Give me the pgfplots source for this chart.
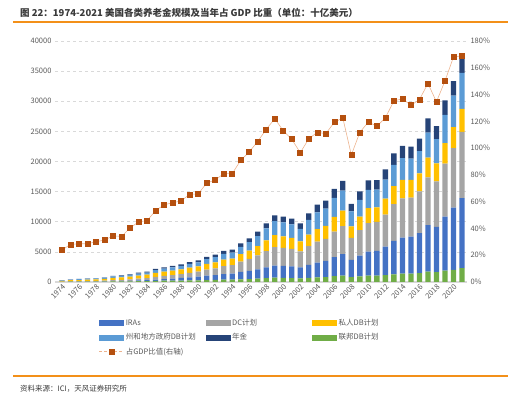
\documentclass[border=0pt]{standalone}
\usepackage{fontspec}
\setmainfont{Carlito}
\newfontfamily\cjk{Noto Sans CJK SC}
\usepackage{pgfplots}
\usepackage{pgfplotstable}
\pgfplotsset{compat=1.18}
\definecolor{cFed}{HTML}{70AD47}
\definecolor{cIRA}{HTML}{4472C4}
\definecolor{cDC}{HTML}{A5A5A5}
\definecolor{cPriv}{HTML}{FFC000}
\definecolor{cState}{HTML}{5B9BD5}
\definecolor{cAnn}{HTML}{264478}
\definecolor{cMark}{HTML}{B5500F}
\definecolor{cLine}{HTML}{EDB38E}
\definecolor{tgray}{HTML}{595959}
\definecolor{titlegray}{HTML}{3A3A3A}
\definecolor{orangeline}{HTML}{F39019}
\definecolor{gridgray}{HTML}{D9D9D9}

\pgfplotstableread{
year fed ira dc priv state ann
1974 30 0 42 120 84 24
1975 45 1 66 179 123 36
1976 50 4 77 197 133 40
1977 61 6 98 238 159 49
1978 66 9 110 255 167 53
1979 78 13 135 299 193 62
1980 100 20 180 380 240 80
1981 109 40 204 408 258 91
1982 123 67 241 456 287 108
1983 145 105 296 530 333 132
1984 157 144 335 568 356 150
1985 194 216 432 691 432 194
1986 215 278 503 742 483 220
1987 229 340 564 766 521 239
1988 247 417 641 800 570 265
1989 271 515 739 845 634 297
1990 288 612 828 864 684 324
1991 324 722 988 955 789 374
1992 344 806 1114 997 861 408
1993 381 937 1308 1082 979 464
1994 386 997 1404 1072 1018 482
1995 449 1220 1733 1220 1220 578
1996 497 1359 1976 1359 1414 645
1997 559 1545 2296 1545 1670 735
1998 638 1778 2703 1778 1997 847
1999 708 1993 3100 1993 2325 952
2000 683 1973 3014 1919 2287 965
2001 652 1934 2901 1829 2228 967
2002 604 1812 2669 1656 2084 916
2003 695 2143 3101 1904 2451 1106
2004 771 2442 3470 2107 2776 1285
2005 824 2666 3679 2160 2835 1330
2006 957 3165 4246 2424 3150 1498
2007 1057 3564 4654 2574 3320 1602
2008 829 2849 3626 1943 2486 1217
2009 949 3434 4232 2229 2801 1401
2010 1047 3984 4760 2464 3055 1570
2011 1047 4119 4794 2431 2954 1553
2012 1141 4715 5332 2657 3162 1703
2013 1280 5548 6103 2988 3500 1921
2014 1377 6006 6503 3048 3635 2010
2015 1393 6132 6491 2920 3549 1976
2016 1475 6637 6923 2974 3711 2070
2017 1711 7741 7931 3259 4155 2363
2018 1629 7522 7548 2999 4007 2146
2019 1900 8958 8807 3378 4705 2413
2020 2000 10340 9860 3490 5250 2390
2021 2320 11620 10960 3820 5980 2990
}\bars

\pgfplotstableread{
year gdp
1974 24
1975 28
1976 28.6
1977 28.6
1978 30
1979 31.4
1980 34.4
1981 34.1
1982 40.3
1983 45
1984 45.8
1985 53.3
1986 57.7
1987 59.2
1988 60.5
1989 65.5
1990 65.7
1991 73.9
1992 76.2
1993 80.9
1994 80.9
1995 90.9
1996 97.1
1997 105
1998 114
1999 122
2000 113
2001 106.6
2002 96.6
2003 107
2004 111.8
2005 110.8
2006 119.3
2007 122.5
2008 94.9
2009 111.8
2010 119.5
2011 116.3
2012 122.7
2013 135.2
2014 136.9
2015 132
2016 136.2
2017 148.3
2018 134.6
2019 150.1
2020 168
2021 169
}\ratio

\begin{document}
\begin{tikzpicture}[x=1pt,y=1pt]
\path (0,0) rectangle (511,396);
\node[anchor=base west, font=\cjk\bfseries\fontsize{9.5}{11}\selectfont, text=titlegray, inner sep=0pt] at (20,379) {图 22：1974-2021 美国各类养老金规模及当年占 GDP 比重（单位：十亿美元）};
\draw[color=orangeline, line width=1.2pt] (13,374) -- (508,374);
\draw[color=orangeline, line width=1.2pt] (13,20) -- (508,20);
\node[anchor=base west, font=\cjk\fontsize{7.5}{9}\selectfont, text=titlegray, inner sep=0pt] at (20,4.5) {资料来源：ICI，天风证券研究所};

\begin{axis}[
  at={(55pt,114pt)}, anchor=south west,
  width=412pt, height=241pt, scale only axis,
  xmin=1973.18, xmax=2021.59, ymin=0, ymax=40000,
  ybar stacked, bar width=5.3pt,
  axis line style={draw=none},
  tick style={draw=none},
  ytick={5000,10000,...,40000},
  extra y ticks={0},
  extra y tick style={grid style={solid, line width=1.4pt, color=gridgray}},
  ymajorgrids,
  grid style={dashed, color=gridgray, line width=0.5pt},
  xtick={1974,1976,...,2020},
  scaled y ticks=false,
  /pgf/number format/1000 sep={},
  /pgf/number format/assume math mode=true,
  yticklabel style={font=\cjk\fontsize{7.5}{9}\selectfont, text=tgray},
  xticklabel style={font=\cjk\fontsize{7.5}{8}\selectfont, text=tgray, rotate=45, anchor=north east, inner sep=1pt},
]
\addplot[fill=cFed, draw=none] table[x=year,y=fed]{\bars};
\addplot[fill=cIRA, draw=none] table[x=year,y=ira]{\bars};
\addplot[fill=cDC, draw=none] table[x=year,y=dc]{\bars};
\addplot[fill=cPriv, draw=none] table[x=year,y=priv]{\bars};
\addplot[fill=cState, draw=none] table[x=year,y=state]{\bars};
\addplot[fill=cAnn, draw=none] table[x=year,y=ann]{\bars};
\end{axis}

\begin{axis}[
  at={(55pt,114pt)}, anchor=south west,
  width=412pt, height=241pt, scale only axis,
  xmin=1973.18, xmax=2021.59, ymin=0, ymax=180,
  axis y line*=right, axis x line=none,
  axis line style={draw=none},
  tick style={draw=none},
  ytick={0,20,...,180},
  yticklabel={\pgfmathprintnumber{\tick}\%},
  /pgf/number format/assume math mode=true,
  yticklabel style={font=\cjk\fontsize{7.5}{9}\selectfont, text=tgray},
  legend columns=3,
  legend cell align=left,
  legend style={at={(axis description cs:0.0995,-0.137)}, anchor=north west,
    draw=none, fill=none, font=\cjk\fontsize{7.5}{9}\selectfont, text=tgray,
    nodes={inner sep=2pt}, row sep=2.5pt},
]
\addlegendimage{legend image code/.code={\fill[cIRA] (0pt,-2.5pt) rectangle (24pt,2.5pt);}}
\addlegendentry{\makebox[78pt][l]{IRAs}}
\addlegendimage{legend image code/.code={\fill[cDC] (0pt,-2.5pt) rectangle (24pt,2.5pt);}}
\addlegendentry{\makebox[78pt][l]{DC计划}}
\addlegendimage{legend image code/.code={\fill[cPriv] (0pt,-2.5pt) rectangle (24pt,2.5pt);}}
\addlegendentry{\makebox[78pt][l]{私人DB计划}}
\addlegendimage{legend image code/.code={\fill[cState] (0pt,-2.5pt) rectangle (24pt,2.5pt);}}
\addlegendentry{\makebox[78pt][l]{州和地方政府DB计划}}
\addlegendimage{legend image code/.code={\fill[cAnn] (0pt,-2.5pt) rectangle (24pt,2.5pt);}}
\addlegendentry{\makebox[78pt][l]{年金}}
\addlegendimage{legend image code/.code={\fill[cFed] (0pt,-2.5pt) rectangle (24pt,2.5pt);}}
\addlegendentry{\makebox[78pt][l]{联邦DB计划}}
\addplot[color=cLine, line width=0.6pt, mark=square*, mark size=2.5pt,
  mark options={fill=cMark, draw=cMark, solid},
  legend image code/.code={\draw[cLine, line width=0.6pt, densely dashed] (0pt,0pt) -- (24pt,0pt); \fill[cMark] (9.5pt,-2.5pt) rectangle (14.5pt,2.5pt);}]
  table[x=year,y=gdp]{\ratio};
\addlegendentry{\makebox[78pt][l]{占GDP比值(右轴)}}
\end{axis}
\end{tikzpicture}
\end{document}
